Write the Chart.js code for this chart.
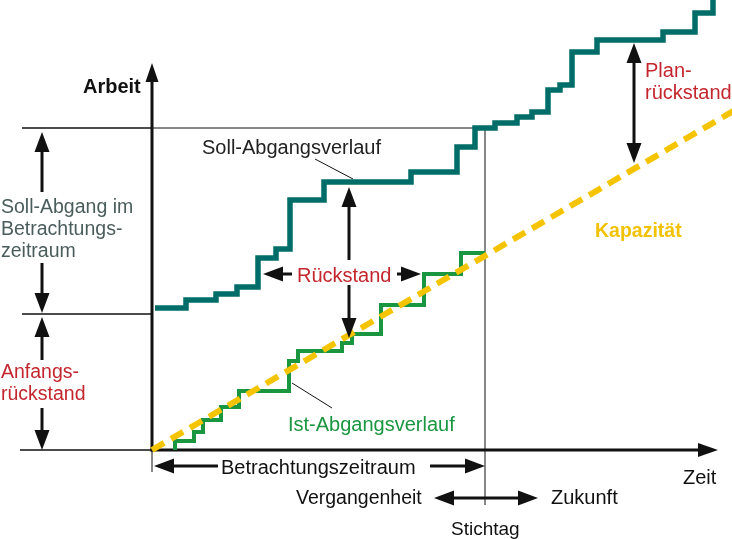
<!DOCTYPE html>
<html>
<head>
<meta charset="utf-8">
<script src="https://cdn.jsdelivr.net/npm/chart.js@4.4.1/dist/chart.umd.min.js"></script>
<style>
html,body{margin:0;padding:0;background:#fff;}
#c{display:block;}
</style>
</head>
<body>
<canvas id="c" width="732" height="539"></canvas>
<script>
// ---- Data (time units along x, work units along y; origin = axis crossing) ----
const sollStart = [3, 142];
const sollStepTime  = [34, 64, 85, 106, 124, 138, 172, 259, 305, 323, 343, 365, 380, 396, 408, 420, 445, 511, 543, 561];
const sollStepLevel = [150, 156, 163, 192, 201, 250, 268, 278, 303, 322, 327, 333, 338, 360, 365, 398, 410, 418, 437, 470];
const sollEnd = 580;

const istStart = [23, 0];
const istStepTime  = [23, 42, 51, 69, 87, 137, 146, 190, 200, 229, 272, 309];
const istStepLevel = [9, 18, 30, 43, 59, 89, 99, 107, 116, 145, 176, 197];
const istEnd = 333;

const kapTime  = [0, 583];
const kapLevel = [0, 340];

const stichtag = 333;

function steps(start, T, W, end) {
  const pts = [{x: start[0], y: start[1]}];
  let prev = start[1];
  for (let i = 0; i < T.length; i++) {
    pts.push({x: T[i], y: prev});
    pts.push({x: T[i], y: W[i]});
    prev = W[i];
  }
  pts.push({x: end, y: prev});
  return pts;
}

const FONT = '"Liberation Sans", Arial, sans-serif';
const RED = '#c4262e';

// annotation geometry in data coordinates
const thinLines = [
  {x1: -130, y1: 322, x2: 0, y2: 322, w: 1.6},
  {x1: 0, y1: 322, x2: stichtag, y2: 322, w: 1},
  {x1: -130, y1: 136, x2: 0, y2: 136, w: 1.4},
  {x1: -132, y1: 0, x2: 0, y2: 0, w: 1.4},
  {x1: stichtag, y1: 322, x2: stichtag, y2: -55, w: 1},
  {x1: 0, y1: 0, x2: 0, y2: -22, w: 1},
  {x1: 163, y1: 291, x2: 201, y2: 271, w: 1},
  {x1: 140, y1: 67, x2: 180, y2: 42, w: 1}
];
const arrows = [
  // tail -> tip
  {x1: -110, y1: 258, x2: -110, y2: 318},
  {x1: -110, y1: 187, x2: -110, y2: 137},
  {x1: -110, y1: 90, x2: -110, y2: 133},
  {x1: -110, y1: 42, x2: -110, y2: 0},
  {x1: 197, y1: 190, x2: 197, y2: 263},
  {x1: 197, y1: 165, x2: 197, y2: 112},
  {x1: 140, y1: 176, x2: 111, y2: 176},
  {x1: 245, y1: 176, x2: 269, y2: 176},
  {x1: 445, y1: 347, x2: 482, y2: 407, dbl: true},
  {x1: 66, y1: -16, x2: 2, y2: -16},
  {x1: 278, y1: -16, x2: 333, y2: -16},
  {x1: 334, y1: -48, x2: 386, y2: -48}
];
// fix: Plan-rueckstand double arrow defined separately
const dblArrows = [
  {x: 482, y1: 287, y2: 407},
  {y: -48, x1: 282, x2: 386}
];
const texts = [
  {t: 'Arbeit', x: 83, y: 93, f: 'bold 20px ' + FONT, c: '#111'},
  {t: 'Soll-Abgang im', x: 1, y: 213, f: '19.5px ' + FONT, c: '#4a5c5c'},
  {t: 'Betrachtungs-', x: 1, y: 235, f: '19.5px ' + FONT, c: '#4a5c5c'},
  {t: 'zeitraum', x: 1, y: 257, f: '19.5px ' + FONT, c: '#4a5c5c'},
  {t: 'Anfangs-', x: 1, y: 378, f: '19.5px ' + FONT, c: RED},
  {t: 'rückstand', x: 1, y: 400, f: '19.5px ' + FONT, c: RED},
  {t: 'Soll-Abgangsverlauf', x: 202, y: 154, f: '20px ' + FONT, c: '#222'},
  {t: 'Rückstand', x: 297, y: 282, f: '20px ' + FONT, c: RED},
  {t: 'Ist-Abgangsverlauf', x: 288, y: 431, f: '20px ' + FONT, c: '#1a9640'},
  {t: 'Plan-', x: 645, y: 77, f: '20px ' + FONT, c: RED},
  {t: 'rückstand', x: 645, y: 99, f: '20px ' + FONT, c: RED},
  {t: 'Kapazität', x: 595, y: 237, f: 'bold 19.5px ' + FONT, c: '#f2c200'},
  {t: 'Betrachtungszeitraum', x: 221, y: 474, f: '20px ' + FONT, c: '#111'},
  {t: 'Zeit', x: 683, y: 484, f: '20px ' + FONT, c: '#111'},
  {t: 'Vergangenheit', x: 296, y: 504, f: '19.5px ' + FONT, c: '#111'},
  {t: 'Zukunft', x: 551, y: 504, f: '20px ' + FONT, c: '#111'},
  {t: 'Stichtag', x: 451, y: 535, f: '19px ' + FONT, c: '#111'}
];

function head(ctx, x1, y1, x2, y2, len, half) {
  const a = Math.atan2(y2 - y1, x2 - x1);
  const bx = x2 - len * Math.cos(a), by = y2 - len * Math.sin(a);
  ctx.beginPath();
  ctx.moveTo(x2, y2);
  ctx.lineTo(bx + half * Math.sin(a), by - half * Math.cos(a));
  ctx.lineTo(bx - half * Math.sin(a), by + half * Math.cos(a));
  ctx.closePath();
  ctx.fill();
  return [bx, by];
}
function arrow(ctx, x1, y1, x2, y2, len, half, w) {
  const a = Math.atan2(y2 - y1, x2 - x1);
  ctx.lineWidth = w;
  ctx.beginPath();
  ctx.moveTo(x1, y1);
  ctx.lineTo(x2 - (len - 2) * Math.cos(a), y2 - (len - 2) * Math.sin(a));
  ctx.stroke();
  head(ctx, x1, y1, x2, y2, len, half);
}

const deco = {
  id: 'deco',
  beforeDatasetsDraw(chart) {
    const ctx = chart.ctx, xs = chart.scales.x, ys = chart.scales.y;
    const X = v => xs.getPixelForValue(v), Y = v => ys.getPixelForValue(v);
    ctx.save();
    ctx.strokeStyle = '#111'; ctx.fillStyle = '#111'; ctx.lineCap = 'butt';
    thinLines.forEach(l => {
      ctx.lineWidth = l.w;
      ctx.beginPath();
      ctx.moveTo(X(l.x1), Y(l.y1)); ctx.lineTo(X(l.x2), Y(l.y2));
      ctx.stroke();
    });
    // axes
    arrow(ctx, X(0), Y(0) + 1.5, X(0), Y(387), 19, 6.5, 3);
    arrow(ctx, X(0) - 1.5, Y(0), X(566), Y(0), 20, 7, 3);
    ctx.restore();
  },
  afterDatasetsDraw(chart) {
    const ctx = chart.ctx, xs = chart.scales.x, ys = chart.scales.y;
    const X = v => xs.getPixelForValue(v), Y = v => ys.getPixelForValue(v);
    ctx.save();
    ctx.strokeStyle = '#111'; ctx.fillStyle = '#111'; ctx.lineCap = 'butt';
    arrows.forEach(a => {
      if (a.dbl) return;
      if (a.x1 === 334) return;
      arrow(ctx, X(a.x1), Y(a.y1), X(a.x2), Y(a.y2), 20, 7.5, 3);
    });
    // Plan-rueckstand (vertical double arrow)
    let d = dblArrows[0];
    let m = (Y(d.y1) + Y(d.y2)) / 2;
    arrow(ctx, X(d.x), m, X(d.x), Y(d.y1), 20, 7.5, 3);
    arrow(ctx, X(d.x), m, X(d.x), Y(d.y2), 20, 7.5, 3);
    // Vergangenheit / Zukunft (horizontal double arrow)
    d = dblArrows[1];
    m = (X(d.x1) + X(d.x2)) / 2;
    arrow(ctx, m, Y(d.y), X(d.x1), Y(d.y), 20, 7.5, 3);
    arrow(ctx, m, Y(d.y), X(d.x2), Y(d.y), 20, 7.5, 3);
    // texts
    ctx.textBaseline = 'alphabetic'; ctx.textAlign = 'left';
    texts.forEach(t => {
      ctx.font = t.f; ctx.fillStyle = t.c;
      ctx.fillText(t.t, t.x, t.y);
    });
    ctx.restore();
  }
};

new Chart(document.getElementById('c'), {
  type: 'scatter',
  data: {
    datasets: [
      {
        label: 'Kapazität',
        data: kapTime.map((t, i) => ({x: t, y: kapLevel[i]})),
        showLine: true, borderColor: '#f5c400', borderWidth: 6,
        borderDash: [14, 8], pointRadius: 0, borderCapStyle: 'butt'
      },
      {
        label: 'Ist-Abgangsverlauf',
        data: steps(istStart, istStepTime, istStepLevel, istEnd),
        showLine: true, borderColor: '#1a9640', borderWidth: 4,
        pointRadius: 0, borderJoinStyle: 'miter', borderCapStyle: 'butt'
      },
      {
        label: 'Soll-Abgangsverlauf',
        data: steps(sollStart, sollStepTime, sollStepLevel, sollEnd),
        showLine: true, borderColor: '#006d68', borderWidth: 5.5,
        pointRadius: 0, borderJoinStyle: 'miter', borderCapStyle: 'butt'
      }
    ]
  },
  options: {
    responsive: false, animation: false, devicePixelRatio: 1,
    layout: {padding: 0},
    plugins: {legend: {display: false}, tooltip: {enabled: false}},
    scales: {
      x: {type: 'linear', min: -152, max: 580, display: false},
      y: {type: 'linear', min: -89, max: 450, display: false}
    }
  },
  plugins: [deco]
});
</script>
</body>
</html>
